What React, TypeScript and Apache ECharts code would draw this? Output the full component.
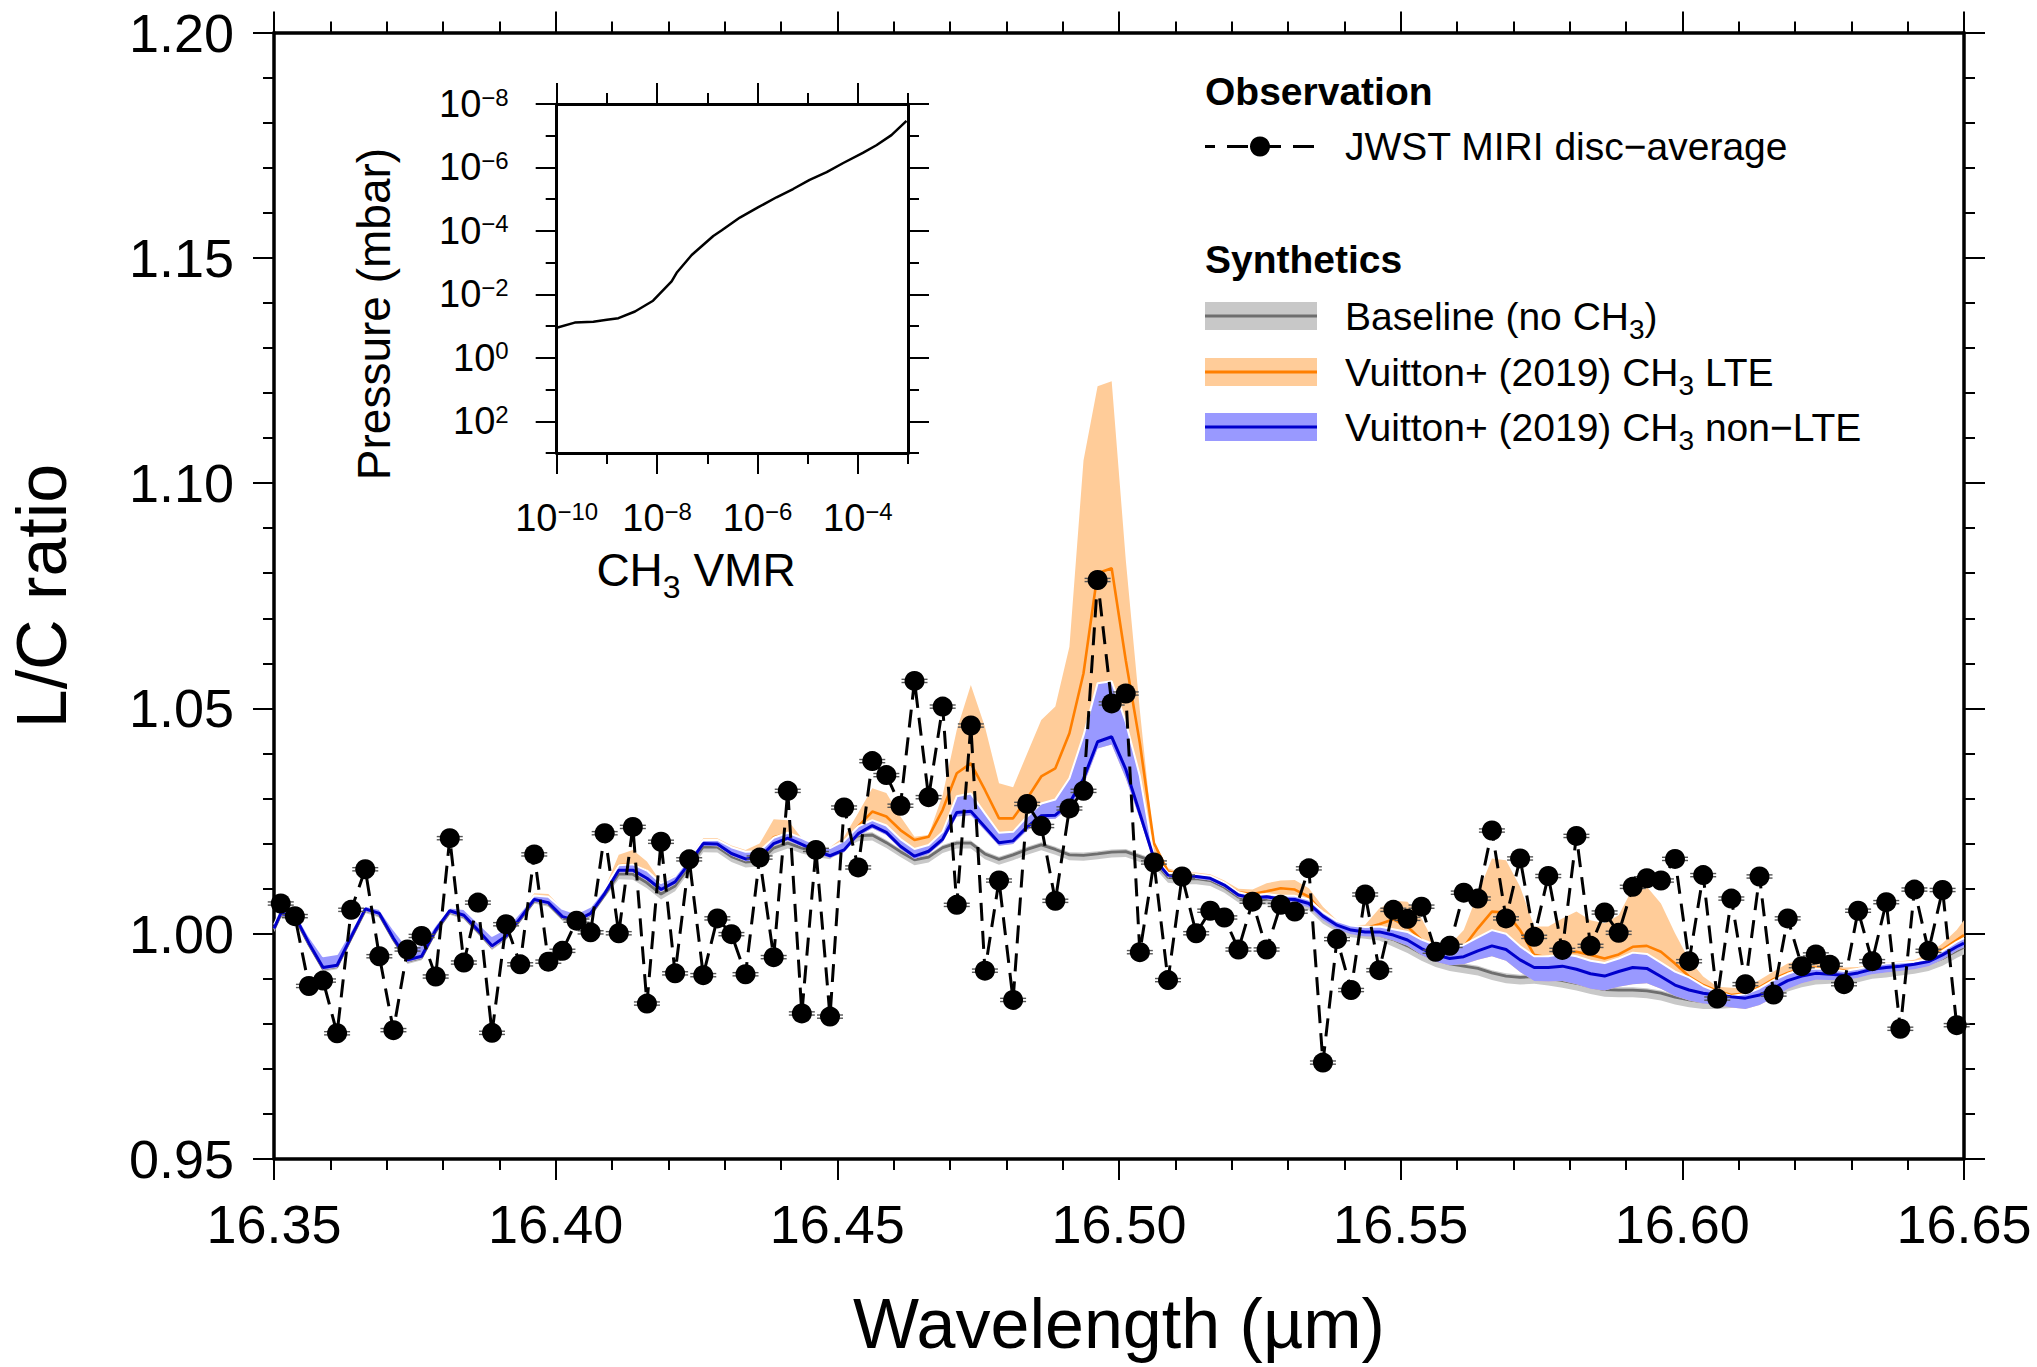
import React, { useEffect, useRef } from 'react';
import * as echarts from 'echarts';

const FONT = '"Liberation Sans", Arial, Helvetica, sans-serif';

// ---------------- Observation (JWST MIRI disc-average) ----------------
const obsWavelength = [
  16.3512, 16.3537, 16.3562, 16.3587, 16.3612, 16.3637, 16.3662, 16.3687, 16.3712, 16.3737,
  16.3762, 16.3787, 16.3812, 16.3837, 16.3862, 16.3887, 16.3912, 16.3937, 16.3962, 16.3987,
  16.4012, 16.4037, 16.4062, 16.4087, 16.4112, 16.4137, 16.4162, 16.4187, 16.4212, 16.4237,
  16.4262, 16.4287, 16.4312, 16.4337, 16.4362, 16.4387, 16.4412, 16.4437, 16.4462, 16.4487,
  16.4512, 16.4537, 16.4562, 16.4587, 16.4612, 16.4637, 16.4662, 16.4687, 16.4712, 16.4737,
  16.4762, 16.4787, 16.4812, 16.4837, 16.4862, 16.4887, 16.4912, 16.4937, 16.4962, 16.4987,
  16.5012, 16.5037, 16.5062, 16.5087, 16.5112, 16.5137, 16.5162, 16.5187, 16.5212, 16.5237,
  16.5262, 16.5287, 16.5312, 16.5337, 16.5362, 16.5387, 16.5412, 16.5437, 16.5462, 16.5487,
  16.5512, 16.5537, 16.5562, 16.5587, 16.5612, 16.5637, 16.5662, 16.5687, 16.5712, 16.5737,
  16.5762, 16.5787, 16.5812, 16.5837, 16.5862, 16.5887, 16.5912, 16.5937, 16.5962, 16.5987,
  16.6012, 16.6037, 16.6062, 16.6087, 16.6112, 16.6137, 16.6162, 16.6187, 16.6212, 16.6237,
  16.6262, 16.6287, 16.6312, 16.6337, 16.6362, 16.6387, 16.6412, 16.6437, 16.6462, 16.6487,
];
const obsRatio = [
  1.0067, 1.0039, 0.9884, 0.9896, 0.9779, 1.0053, 1.0143, 0.9950, 0.9786, 0.9965,
  0.9995, 0.9905, 1.0212, 0.9936, 1.0069, 0.9780, 1.0021, 0.9932, 1.0176, 0.9938,
  0.9962, 1.0029, 1.0003, 1.0223, 1.0001, 1.0237, 0.9845, 1.0204, 0.9912, 1.0165,
  0.9908, 1.0034, 0.9999, 0.9910, 1.0169, 0.9948, 1.0317, 0.9823, 1.0186, 0.9816,
  1.0280, 1.0147, 1.0383, 1.0352, 1.0284, 1.0561, 1.0303, 1.0504, 1.0064, 1.0462,
  0.9918, 1.0118, 0.9853, 1.0288, 1.0239, 1.0073, 1.0278, 1.0317, 1.0785, 1.0511,
  1.0533, 0.9959, 1.0158, 0.9897, 1.0127, 1.0001, 1.0051, 1.0036, 0.9965, 1.0071,
  0.9965, 1.0064, 1.0049, 1.0145, 0.9714, 0.9988, 0.9875, 1.0087, 0.9919, 1.0053,
  1.0033, 1.0060, 0.9960, 0.9973, 1.0091, 1.0078, 1.0229, 1.0034, 1.0167, 0.9993,
  1.0128, 0.9964, 1.0217, 0.9973, 1.0047, 1.0002, 1.0104, 1.0123, 1.0118, 1.0166,
  0.9939, 1.0130, 0.9856, 1.0078, 0.9888, 1.0127, 0.9865, 1.0034, 0.9928, 0.9954,
  0.9931, 0.9888, 1.0051, 0.9939, 1.0070, 0.9789, 1.0098, 0.9962, 1.0097, 0.9797,
];

// ---------------- Synthetic spectra (model grid = plot edges + observation grid) ----------------
const modelWavelength = [16.35, ...obsWavelength, 16.65];

const baselineRatio = [
  1.0009, 1.0042, 1.0036, 0.9976, 0.9922, 0.9927, 0.9990, 1.0052, 1.0042, 0.9987,
  0.9939, 0.9947, 1.0005, 1.0048, 1.0038, 1.0005, 0.9970, 0.9992, 1.0031, 1.0073,
  1.0066, 1.0035, 1.0026, 1.0042, 1.0086, 1.0133, 1.0132, 1.0113, 1.0088, 1.0106,
  1.0149, 1.0193, 1.0192, 1.0171, 1.0159, 1.0161, 1.0190, 1.0201, 1.0190, 1.0182,
  1.0177, 1.0201, 1.0217, 1.0219, 1.0202, 1.0182, 1.0164, 1.0170, 1.0191, 1.0201,
  1.0201, 1.0177, 1.0165, 1.0175, 1.0187, 1.0197, 1.0187, 1.0175, 1.0174, 1.0177,
  1.0181, 1.0182, 1.0171, 1.0160, 1.0125, 1.0122, 1.0122, 1.0118, 1.0103, 1.0081,
  1.0074, 1.0077, 1.0072, 1.0072, 1.0064, 1.0034, 1.0016, 1.0004, 1.0001, 0.9997,
  0.9987, 0.9973, 0.9956, 0.9942, 0.9933, 0.9928, 0.9923, 0.9913, 0.9906, 0.9903,
  0.9905, 0.9901, 0.9896, 0.9890, 0.9882, 0.9876, 0.9875, 0.9875, 0.9873, 0.9868,
  0.9859, 0.9853, 0.9849, 0.9849, 0.9851, 0.9854, 0.9864, 0.9875, 0.9888, 0.9897,
  0.9903, 0.9905, 0.9905, 0.9908, 0.9916, 0.9919, 0.9923, 0.9927, 0.9933, 0.9945,
  0.9962, 0.9970,
];
const baselineHi = [
  1.0012, 1.0045, 1.0039, 0.9979, 0.9925, 0.9930, 0.9993, 1.0055, 1.0045, 0.9990,
  0.9942, 0.9950, 1.0008, 1.0051, 1.0041, 1.0008, 0.9973, 0.9995, 1.0034, 1.0076,
  1.0069, 1.0038, 1.0029, 1.0045, 1.0089, 1.0139, 1.0138, 1.0119, 1.0094, 1.0112,
  1.0155, 1.0199, 1.0198, 1.0177, 1.0165, 1.0167, 1.0196, 1.0207, 1.0196, 1.0188,
  1.0183, 1.0207, 1.0223, 1.0225, 1.0208, 1.0188, 1.0170, 1.0176, 1.0197, 1.0207,
  1.0207, 1.0183, 1.0171, 1.0181, 1.0193, 1.0203, 1.0193, 1.0181, 1.0180, 1.0183,
  1.0187, 1.0188, 1.0177, 1.0166, 1.0131, 1.0128, 1.0128, 1.0124, 1.0109, 1.0087,
  1.0080, 1.0083, 1.0078, 1.0078, 1.0070, 1.0040, 1.0022, 1.0010, 1.0007, 1.0003,
  0.9993, 0.9979, 0.9962, 0.9948, 0.9939, 0.9934, 0.9929, 0.9919, 0.9912, 0.9909,
  0.9911, 0.9907, 0.9902, 0.9896, 0.9888, 0.9882, 0.9881, 0.9881, 0.9879, 0.9874,
  0.9865, 0.9859, 0.9855, 0.9855, 0.9857, 0.9860, 0.9870, 0.9881, 0.9894, 0.9903,
  0.9909, 0.9911, 0.9911, 0.9914, 0.9922, 0.9925, 0.9929, 0.9933, 0.9939, 0.9951,
  0.9968, 0.9976,
];
const baselineLo = [
  1.0003, 1.0036, 1.0030, 0.9970, 0.9916, 0.9921, 0.9984, 1.0046, 1.0036, 0.9981,
  0.9933, 0.9941, 0.9999, 1.0042, 1.0032, 0.9999, 0.9964, 0.9986, 1.0025, 1.0067,
  1.0060, 1.0029, 1.0020, 1.0036, 1.0080, 1.0121, 1.0120, 1.0101, 1.0076, 1.0094,
  1.0137, 1.0181, 1.0180, 1.0159, 1.0147, 1.0149, 1.0178, 1.0189, 1.0178, 1.0170,
  1.0165, 1.0189, 1.0205, 1.0207, 1.0190, 1.0170, 1.0152, 1.0158, 1.0179, 1.0189,
  1.0189, 1.0165, 1.0153, 1.0163, 1.0175, 1.0185, 1.0175, 1.0163, 1.0162, 1.0165,
  1.0169, 1.0170, 1.0159, 1.0148, 1.0113, 1.0110, 1.0110, 1.0106, 1.0091, 1.0069,
  1.0062, 1.0065, 1.0060, 1.0060, 1.0052, 1.0022, 1.0004, 0.9992, 0.9989, 0.9985,
  0.9971, 0.9957, 0.9940, 0.9926, 0.9917, 0.9912, 0.9907, 0.9897, 0.9890, 0.9887,
  0.9889, 0.9885, 0.9880, 0.9874, 0.9866, 0.9860, 0.9859, 0.9859, 0.9857, 0.9852,
  0.9843, 0.9837, 0.9833, 0.9833, 0.9835, 0.9838, 0.9848, 0.9859, 0.9872, 0.9881,
  0.9887, 0.9889, 0.9889, 0.9892, 0.9900, 0.9903, 0.9907, 0.9911, 0.9917, 0.9929,
  0.9946, 0.9954,
];

const lteRatio = [
  1.0012, 1.0045, 1.0039, 0.9979, 0.9925, 0.9930, 0.9993, 1.0055, 1.0045, 0.9990,
  0.9942, 0.9950, 1.0008, 1.0051, 1.0041, 1.0008, 0.9973, 0.9995, 1.0034, 1.0078,
  1.0072, 1.0038, 1.0029, 1.0045, 1.0089, 1.0152, 1.0154, 1.0138, 1.0101, 1.0117,
  1.0158, 1.0202, 1.0201, 1.0181, 1.0170, 1.0176, 1.0214, 1.0222, 1.0205, 1.0188,
  1.0178, 1.0196, 1.0238, 1.0271, 1.0260, 1.0230, 1.0208, 1.0215, 1.0275, 1.0356,
  1.0378, 1.0319, 1.0256, 1.0256, 1.0300, 1.0349, 1.0367, 1.0445, 1.0578, 1.0800,
  1.0811, 1.0607, 1.0423, 1.0201, 1.0138, 1.0130, 1.0130, 1.0126, 1.0112, 1.0092,
  1.0088, 1.0094, 1.0101, 1.0098, 1.0082, 1.0045, 1.0023, 1.0010, 1.0012, 1.0021,
  1.0032, 1.0016, 0.9986, 0.9958, 0.9956, 0.9971, 1.0012, 1.0049, 1.0047, 1.0008,
  0.9953, 0.9947, 0.9958, 0.9960, 0.9953, 0.9945, 0.9954, 0.9971, 0.9973, 0.9960,
  0.9934, 0.9905, 0.9886, 0.9873, 0.9864, 0.9868, 0.9881, 0.9899, 0.9913, 0.9923,
  0.9925, 0.9923, 0.9918, 0.9918, 0.9923, 0.9927, 0.9930, 0.9934, 0.9943, 0.9965,
  0.9986, 0.9997,
];
const lteHi = [
  1.0020, 1.0052, 1.0050, 0.9995, 0.9950, 0.9955, 1.0008, 1.0062, 1.0055, 1.0010,
  0.9970, 0.9975, 1.0020, 1.0058, 1.0055, 1.0025, 0.9995, 1.0012, 1.0048, 1.0090,
  1.0088, 1.0055, 1.0045, 1.0060, 1.0100, 1.0175, 1.0186, 1.0160, 1.0115, 1.0130,
  1.0170, 1.0212, 1.0212, 1.0196, 1.0186, 1.0200, 1.0254, 1.0252, 1.0212, 1.0200,
  1.0192, 1.0215, 1.0268, 1.0323, 1.0312, 1.0260, 1.0215, 1.0219, 1.0308, 1.0452,
  1.0552, 1.0459, 1.0334, 1.0325, 1.0400, 1.0474, 1.0504, 1.0637, 1.1050, 1.1215,
  1.1226, 1.0830, 1.0496, 1.0193, 1.0145, 1.0136, 1.0136, 1.0132, 1.0118, 1.0100,
  1.0098, 1.0112, 1.0118, 1.0119, 1.0101, 1.0060, 1.0030, 1.0018, 1.0020, 1.0056,
  1.0073, 1.0071, 1.0034, 0.9975, 0.9975, 1.0008, 1.0089, 1.0167, 1.0163, 1.0104,
  1.0016, 1.0016, 1.0034, 1.0049, 1.0030, 1.0023, 1.0041, 1.0101, 1.0104, 1.0067,
  1.0001, 0.9942, 0.9905, 0.9882, 0.9880, 0.9879, 0.9897, 0.9916, 0.9934, 0.9942,
  0.9936, 0.9930, 0.9925, 0.9926, 0.9932, 0.9936, 0.9939, 0.9942, 0.9955, 0.9979,
  1.0008, 1.0030,
];

const nonLteRatio = [
  1.0012, 1.0045, 1.0039, 0.9979, 0.9925, 0.9930, 0.9993, 1.0055, 1.0045, 0.9990,
  0.9942, 0.9950, 1.0008, 1.0051, 1.0041, 1.0008, 0.9973, 0.9995, 1.0034, 1.0076,
  1.0069, 1.0038, 1.0029, 1.0045, 1.0089, 1.0141, 1.0141, 1.0123, 1.0098, 1.0115,
  1.0156, 1.0200, 1.0199, 1.0178, 1.0166, 1.0169, 1.0200, 1.0212, 1.0198, 1.0184,
  1.0173, 1.0186, 1.0222, 1.0240, 1.0225, 1.0194, 1.0172, 1.0183, 1.0210, 1.0269,
  1.0272, 1.0237, 1.0202, 1.0206, 1.0237, 1.0262, 1.0263, 1.0290, 1.0344, 1.0426,
  1.0437, 1.0365, 1.0267, 1.0167, 1.0130, 1.0127, 1.0127, 1.0123, 1.0108, 1.0086,
  1.0079, 1.0082, 1.0077, 1.0076, 1.0067, 1.0039, 1.0019, 1.0008, 1.0004, 1.0004,
  0.9997, 0.9986, 0.9967, 0.9953, 0.9945, 0.9949, 0.9962, 0.9973, 0.9965, 0.9942,
  0.9925, 0.9925, 0.9928, 0.9921, 0.9911, 0.9906, 0.9916, 0.9925, 0.9923, 0.9905,
  0.9886, 0.9875, 0.9868, 0.9864, 0.9860, 0.9857, 0.9864, 0.9879, 0.9896, 0.9906,
  0.9912, 0.9910, 0.9908, 0.9913, 0.9921, 0.9925, 0.9928, 0.9932, 0.9938, 0.9953,
  0.9971, 0.9979,
];
const nonLteHi = [
  1.0020, 1.0052, 1.0050, 0.9995, 0.9950, 0.9955, 1.0008, 1.0062, 1.0055, 1.0010,
  0.9970, 0.9975, 1.0020, 1.0058, 1.0055, 1.0025, 0.9995, 1.0012, 1.0048, 1.0085,
  1.0082, 1.0055, 1.0045, 1.0060, 1.0100, 1.0152, 1.0154, 1.0140, 1.0112, 1.0128,
  1.0168, 1.0208, 1.0208, 1.0192, 1.0182, 1.0183, 1.0213, 1.0224, 1.0212, 1.0198,
  1.0190, 1.0206, 1.0238, 1.0252, 1.0240, 1.0210, 1.0188, 1.0197, 1.0226, 1.0305,
  1.0311, 1.0267, 1.0224, 1.0226, 1.0260, 1.0289, 1.0298, 1.0345, 1.0440, 1.0556,
  1.0560, 1.0470, 1.0350, 1.0172, 1.0135, 1.0132, 1.0132, 1.0128, 1.0114, 1.0092,
  1.0085, 1.0088, 1.0084, 1.0084, 1.0076, 1.0048, 1.0028, 1.0018, 1.0015, 1.0016,
  1.0010, 1.0004, 0.9987, 0.9975, 0.9968, 0.9975, 0.9992, 1.0008, 1.0000, 0.9972,
  0.9950, 0.9950, 0.9955, 0.9950, 0.9940, 0.9935, 0.9945, 0.9958, 0.9955, 0.9936,
  0.9916, 0.9903, 0.9884, 0.9871, 0.9862, 0.9866, 0.9879, 0.9897, 0.9911, 0.9921,
  0.9923, 0.9921, 0.9917, 0.9922, 0.9929, 0.9934, 0.9936, 0.9938, 0.9944, 0.9962,
  0.9982, 0.9990,
];
const nonLteLo = [
  1.0007, 1.0040, 1.0034, 0.9973, 0.9920, 0.9925, 0.9988, 1.0050, 1.0040, 0.9985,
  0.9937, 0.9945, 1.0003, 1.0046, 1.0036, 1.0003, 0.9967, 0.9990, 1.0029, 1.0071,
  1.0064, 1.0033, 1.0024, 1.0040, 1.0084, 1.0136, 1.0136, 1.0118, 1.0093, 1.0110,
  1.0151, 1.0195, 1.0194, 1.0173, 1.0161, 1.0164, 1.0195, 1.0207, 1.0193, 1.0179,
  1.0168, 1.0181, 1.0216, 1.0234, 1.0219, 1.0188, 1.0166, 1.0177, 1.0203, 1.0260,
  1.0263, 1.0229, 1.0195, 1.0199, 1.0229, 1.0254, 1.0255, 1.0280, 1.0330, 1.0411,
  1.0420, 1.0345, 1.0255, 1.0160, 1.0125, 1.0122, 1.0122, 1.0118, 1.0103, 1.0081,
  1.0074, 1.0077, 1.0070, 1.0068, 1.0058, 1.0030, 1.0010, 0.9999, 0.9994, 0.9993,
  0.9985, 0.9973, 0.9953, 0.9938, 0.9930, 0.9932, 0.9942, 0.9950, 0.9940, 0.9915,
  0.9895, 0.9894, 0.9895, 0.9888, 0.9878, 0.9874, 0.9882, 0.9888, 0.9890, 0.9878,
  0.9862, 0.9852, 0.9845, 0.9842, 0.9836, 0.9833, 0.9842, 0.9858, 0.9877, 0.9890,
  0.9898, 0.9897, 0.9896, 0.9902, 0.9910, 0.9914, 0.9917, 0.9921, 0.9928, 0.9943,
  0.9962, 0.9970,
];

// ---------------- Inset: CH3 profile (log10 values) ----------------
const insetVmrExponent = [
  -10.0, -9.64, -9.27, -9.0, -8.77, -8.44, -8.08, -7.71, -7.61, -7.31, -6.88, -6.71,
  -6.35, -5.99, -5.62, -5.29, -4.96, -4.62, -4.29, -3.9, -3.63, -3.33, -3.03,
];
const insetPressureExponent = [
  -0.95, -1.11, -1.14, -1.2, -1.25, -1.46, -1.8, -2.41, -2.68, -3.24, -3.84, -4.02,
  -4.42, -4.74, -5.06, -5.32, -5.61, -5.85, -6.14, -6.46, -6.7, -7.02, -7.47,
];
const insetXLabelExps = [-10, -8, -6, -4];
const insetXTickExps = [-10, -9, -8, -7, -6, -5, -4, -3];
const insetYLabelExps = [-8, -6, -4, -2, 0, 2];
const insetYTickExps = [-8, -7, -6, -5, -4, -3, -2, -1, 0, 1, 2, 3];

const COLORS = {
  grayBand: '#c8c8c8',
  grayLine: '#6e6e6e',
  orangeBand: '#ffcc99',
  orangeLine: '#ff7f00',
  blueBand: '#9999ff',
  blueLine: '#0000cc',
};

const MAIN = { left: 274, top: 32.5, width: 1690, height: 1126.5 };
const INSET = { left: 556.7, top: 104, width: 351.3, height: 349 };

function bandSeries(lo: number[], hi: number[], color: string, z: number) {
  return {
    type: 'custom',
    xAxisIndex: 0,
    yAxisIndex: 0,
    z,
    silent: true,
    data: [[16.5, 1.0]],
    renderItem: (_p: any, api: any) => {
      const pts: number[][] = [];
      for (let i = 0; i < modelWavelength.length; i++) pts.push(api.coord([modelWavelength[i], hi[i]]));
      for (let i = modelWavelength.length - 1; i >= 0; i--) pts.push(api.coord([modelWavelength[i], lo[i]]));
      return { type: 'polygon', shape: { points: pts }, style: { fill: color } };
    },
  };
}

function modelLine(ys: number[], color: string, width: number, z: number) {
  return {
    type: 'line',
    xAxisIndex: 0,
    yAxisIndex: 0,
    z,
    silent: true,
    symbol: 'none',
    showSymbol: false,
    data: modelWavelength.map((x, i) => [x, ys[i]]),
    lineStyle: { color, width },
    itemStyle: { color },
  };
}

const expRich = {
  b: { fontSize: 38, lineHeight: 38, fontFamily: FONT, color: '#000' },
  s: { fontSize: 24, lineHeight: 24, fontFamily: FONT, color: '#000', verticalAlign: 'top' },
};
const expLabel = (v: number) => `{b|10}{s|${v < 0 ? '\u2212' + Math.abs(v) : String(v)}}`;

function mainX(position: string, showLabel: boolean) {
  return {
    type: 'value',
    gridIndex: 0,
    position,
    min: 16.35,
    max: 16.65,
    interval: 0.05,
    axisLine: { show: true, onZero: false, lineStyle: { color: '#000', width: 3.5 } },
    axisTick: { show: true, inside: false, length: 21, lineStyle: { color: '#000', width: 2 } },
    minorTick: { show: true, splitNumber: 5, length: 11, lineStyle: { color: '#000', width: 2 } },
    splitLine: { show: false },
    minorSplitLine: { show: false },
    axisLabel: {
      show: showLabel,
      margin: 38,
      fontSize: 54,
      fontFamily: FONT,
      color: '#000',
      formatter: (v: number) => v.toFixed(2),
    },
  };
}
function mainY(position: string, showLabel: boolean) {
  return {
    type: 'value',
    gridIndex: 0,
    position,
    min: 0.95,
    max: 1.2,
    interval: 0.05,
    axisLine: { show: true, onZero: false, lineStyle: { color: '#000', width: 3.5 } },
    axisTick: { show: true, inside: false, length: 21, lineStyle: { color: '#000', width: 2 } },
    minorTick: { show: true, splitNumber: 5, length: 11, lineStyle: { color: '#000', width: 2 } },
    splitLine: { show: false },
    minorSplitLine: { show: false },
    axisLabel: {
      show: showLabel,
      margin: 40,
      fontSize: 54,
      fontFamily: FONT,
      color: '#000',
      formatter: (v: number) => v.toFixed(2),
    },
  };
}
function insetX(position: string, long: boolean, showLabel: boolean) {
  return {
    type: 'value',
    gridIndex: 1,
    position,
    min: -10,
    max: -3,
    interval: 1,
    axisLine: { show: long, onZero: false, lineStyle: { color: '#000', width: 3 } },
    axisTick: {
      show: true,
      inside: false,
      length: long ? 21 : 11,
      customValues: long ? insetXLabelExps : insetXTickExps,
      lineStyle: { color: '#000', width: 2 },
    },
    minorTick: { show: false },
    splitLine: { show: false },
    axisLabel: {
      show: showLabel,
      customValues: insetXLabelExps,
      margin: 46,
      formatter: expLabel,
      rich: expRich,
    },
  };
}
function insetY(position: string, long: boolean, showLabel: boolean) {
  return {
    type: 'value',
    gridIndex: 1,
    position,
    min: -8,
    max: 3,
    inverse: true,
    interval: 1,
    axisLine: { show: long, onZero: false, lineStyle: { color: '#000', width: 3 } },
    axisTick: {
      show: true,
      inside: false,
      length: long ? 21 : 11,
      customValues: long ? insetYLabelExps : insetYTickExps,
      lineStyle: { color: '#000', width: 2 },
    },
    minorTick: { show: false },
    splitLine: { show: false },
    axisLabel: {
      show: showLabel,
      customValues: insetYLabelExps,
      margin: 48,
      formatter: expLabel,
      rich: expRich,
    },
  };
}

const subRich = (size: number) => ({ sub: { fontSize: size, lineHeight: size, fontFamily: FONT, fill: '#000', verticalAlign: 'bottom' } });

function legendText(x: number, y: number, text: string, bold = false) {
  return {
    type: 'text',
    x,
    y,
    z: 100,
    style: {
      text,
      fontSize: 39,
      lineHeight: 55,
      fontWeight: bold ? 'bold' : 'normal',
      fontFamily: FONT,
      fill: '#000',
      align: 'left',
      verticalAlign: 'middle',
      rich: subRich(28),
    },
  };
}
function legendPatch(y: number, band: string, line: string) {
  return [
    { type: 'rect', z: 100, shape: { x: 1205, y: y - 14, width: 112, height: 28 }, style: { fill: band } },
    { type: 'line', z: 101, shape: { x1: 1205, y1: y, x2: 1317, y2: y }, style: { stroke: line, lineWidth: 3 } },
  ];
}

export default function App() {
  const ref = useRef<HTMLDivElement>(null);

  useEffect(() => {
    if (!ref.current) return;
    const chart = echarts.init(ref.current, undefined, { renderer: 'svg' });

    const option: any = {
      animation: false,
      backgroundColor: '#ffffff',
      grid: [
        { ...MAIN, show: false, containLabel: false, outerBoundsMode: 'none' },
        { ...INSET, show: false, containLabel: false, outerBoundsMode: 'none' },
      ],
      xAxis: [
        mainX('bottom', true),
        mainX('top', false),
        insetX('bottom', true, true),
        insetX('bottom', false, false),
        insetX('top', true, false),
        insetX('top', false, false),
      ],
      yAxis: [
        mainY('left', true),
        mainY('right', false),
        insetY('left', true, true),
        insetY('left', false, false),
        insetY('right', true, false),
        insetY('right', false, false),
      ],
      series: [
        bandSeries(baselineLo, baselineHi, COLORS.grayBand, 1),
        modelLine(baselineRatio, COLORS.grayLine, 2.8, 2),
        bandSeries(nonLteLo, lteHi, COLORS.orangeBand, 3),
        modelLine(lteRatio, COLORS.orangeLine, 2.6, 4),
        bandSeries(nonLteLo, nonLteHi, COLORS.blueBand, 5),
        modelLine(nonLteHi, '#ffffff', 2, 6),
        modelLine(nonLteRatio, COLORS.blueLine, 3, 7),
        {
          type: 'custom',
          xAxisIndex: 0,
          yAxisIndex: 0,
          z: 8,
          silent: true,
          data: obsWavelength.map((x, i) => [x, obsRatio[i]]),
          renderItem: (_p: any, api: any) => {
            const c = api.coord([api.value(0), api.value(1)]);
            return {
              type: 'group',
              children: [
                { type: 'line', shape: { x1: c[0] - 13, y1: c[1] - 1.6, x2: c[0] + 13, y2: c[1] - 1.6 }, style: { stroke: '#555', lineWidth: 1.4 } },
                { type: 'line', shape: { x1: c[0] - 13, y1: c[1] + 1.6, x2: c[0] + 13, y2: c[1] + 1.6 }, style: { stroke: '#555', lineWidth: 1.4 } },
              ],
            };
          },
        },
        {
          type: 'line',
          name: 'JWST MIRI disc\u2212average',
          xAxisIndex: 0,
          yAxisIndex: 0,
          z: 9,
          silent: true,
          data: obsWavelength.map((x, i) => [x, obsRatio[i]]),
          symbol: 'circle',
          symbolSize: 20,
          showSymbol: true,
          itemStyle: { color: '#000' },
          lineStyle: { color: '#000', width: 3, type: [18, 10] },
        },
        {
          type: 'line',
          xAxisIndex: 2,
          yAxisIndex: 2,
          z: 10,
          silent: true,
          symbol: 'none',
          data: insetVmrExponent.map((x, i) => [x, insetPressureExponent[i]]),
          lineStyle: { color: '#000', width: 2.5 },
        },
      ],
      graphic: [
        {
          type: 'text', x: 42, y: 596, rotation: Math.PI / 2,
          style: { text: 'L/C ratio', fontSize: 70, fontFamily: FONT, fill: '#000', align: 'center', verticalAlign: 'middle' },
        },
        {
          type: 'text', x: 1119, y: 1324,
          style: { text: 'Wavelength (\u00b5m)', fontSize: 70, fontFamily: FONT, fill: '#000', align: 'center', verticalAlign: 'middle' },
        },
        {
          type: 'text', x: 374, y: 314, rotation: Math.PI / 2,
          style: { text: 'Pressure (mbar)', fontSize: 46, fontFamily: FONT, fill: '#000', align: 'center', verticalAlign: 'middle' },
        },
        {
          type: 'text', x: 696, y: 570,
          style: {
            text: 'CH{sub|3} VMR', fontSize: 46, lineHeight: 66, fontFamily: FONT, fill: '#000',
            align: 'center', verticalAlign: 'middle', rich: subRich(32),
          },
        },
        legendText(1205, 91, 'Observation', true),
        {
          type: 'line', z: 100,
          shape: { x1: 1205, y1: 146.5, x2: 1317, y2: 146.5 },
          style: { stroke: '#000', lineWidth: 3, lineDash: [21, 12], lineDashOffset: 11 },
        },
        { type: 'circle', z: 101, shape: { cx: 1260, cy: 146.5, r: 10 }, style: { fill: '#000' } },
        legendText(1345, 146, 'JWST MIRI disc\u2212average'),
        legendText(1205, 259, 'Synthetics', true),
        ...legendPatch(316, COLORS.grayBand, COLORS.grayLine),
        legendText(1345, 316, 'Baseline (no CH{sub|3})'),
        ...legendPatch(372, COLORS.orangeBand, COLORS.orangeLine),
        legendText(1345, 372, 'Vuitton+ (2019) CH{sub|3} LTE'),
        ...legendPatch(427, COLORS.blueBand, COLORS.blueLine),
        legendText(1345, 427, 'Vuitton+ (2019) CH{sub|3} non\u2212LTE'),
      ],
    };

    chart.setOption(option);
    return () => chart.dispose();
  }, []);

  return (
    <div
      ref={ref}
      style={{ position: 'absolute', left: 0, top: 0, width: 2037, height: 1367, background: '#fff' }}
    />
  );
}
